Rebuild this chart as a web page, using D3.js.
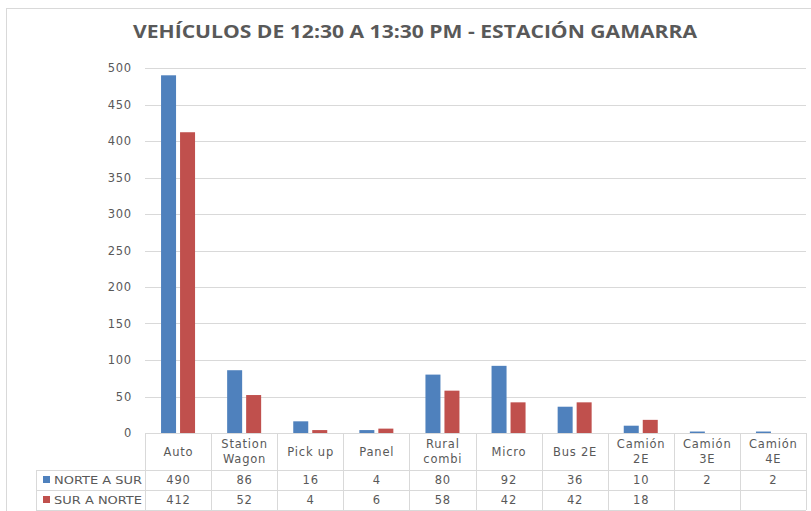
<!DOCTYPE html>
<html>
<head>
<meta charset="utf-8">
<script src="https://cdn.jsdelivr.net/npm/d3@7"></script>
<style>
  html, body { margin: 0; padding: 0; background: #fff; }
  svg { display: block; }
  text { font-family: "DejaVu Sans", "Open Sans", sans-serif; fill: #595959; }
  .title { font-family: "Open Sans", "DejaVu Sans", sans-serif; }
  .lbl { letter-spacing: 0.8px; }
</style>
</head>
<body>
<svg id="chart" width="811" height="511"></svg>
<script>
// Vehicle counts by type, 12:30–13:30, Gamarra station
const categories = ["Auto", "Station\nWagon", "Pick up", "Panel", "Rural\ncombi", "Micro", "Bus 2E", "Camión\n2E", "Camión\n3E", "Camión\n4E"];
const seriesNames = ["NORTE A SUR", "SUR A NORTE"];
const norteASur = [490, 86, 16, 4, 80, 92, 36, 10, 2, 2];
const surANorte = [412, 52, 4, 6, 58, 42, 42, 18, null, null];
const yTicks = [0, 50, 100, 150, 200, 250, 300, 350, 400, 450, 500];
const colors = ["#4F81BD", "#C0504D"];
const title = "VEHÍCULOS DE 12:30 A 13:30 PM - ESTACIÓN GAMARRA";

const series = [norteASur, surANorte];
const svg = d3.select("#chart");

// chart frame
svg.append("rect").attr("x", 6.5).attr("y", 8.5).attr("width", 820).attr("height", 520)
  .attr("fill", "#fff").attr("stroke", "#d9d9d9");

svg.append("text").attr("class", "title").attr("x", 415).attr("y", 38).attr("text-anchor", "middle")
  .attr("font-size", 17).attr("font-weight", "bold")
  .attr("textLength", 564).attr("lengthAdjust", "spacingAndGlyphs")
  .text(title);

const plot = { left: 145, right: 806, top: 68, bottom: 433 };

const x = d3.scaleBand().domain(d3.range(categories.length))
  .range([plot.left, plot.right]).paddingInner(0).paddingOuter(0);
const y = d3.scaleLinear().domain([0, 500]).range([plot.bottom, plot.top]);

// gridlines
svg.append("g").selectAll("line").data(yTicks.filter(t => t > 0)).join("line")
  .attr("x1", plot.left).attr("x2", plot.right)
  .attr("y1", d => Math.round(y(d)) + 0.5).attr("y2", d => Math.round(y(d)) + 0.5)
  .attr("stroke", "#d9d9d9").attr("stroke-width", 1);

// y axis labels
const yAxis = d3.axisLeft(y).tickValues(yTicks).tickSize(0).tickPadding(0);
const gy = svg.append("g").attr("transform", `translate(${plot.left - 13},0)`).call(yAxis);
gy.select(".domain").remove();
gy.selectAll("text").attr("class", "lbl").attr("font-size", 11.5).attr("fill", "#595959")
  .style("font-family", "'DejaVu Sans', 'Open Sans', sans-serif");

// bars
const barW = 15, gap = 4;
const groupW = barW * 2 + gap;
series.forEach((vals, si) => {
  svg.append("g").selectAll("rect")
    .data(vals.map((v, i) => ({ v, i })).filter(d => d.v != null)).join("rect")
    .attr("x", d => x(d.i) + (x.bandwidth() - groupW) / 2 + si * (barW + gap))
    .attr("y", d => y(d.v))
    .attr("width", barW)
    .attr("height", d => y(0) - y(d.v))
    .attr("fill", colors[si]);
});

// data table
const tableLeft = 36;
const rowHead = [433, 470];
const rows = [[470, 490], [490, 510]];
const gridColor = "#d9d9d9";
const tg = svg.append("g");

// vertical cell borders
d3.range(categories.length + 1).forEach(i => {
  const xx = Math.round(i < categories.length ? x(i) : plot.right) + 0.5;
  tg.append("line").attr("x1", xx).attr("x2", xx).attr("y1", rowHead[0]).attr("y2", rows[1][1])
    .attr("stroke", gridColor);
});
tg.append("line").attr("x1", tableLeft + 0.5).attr("x2", tableLeft + 0.5)
  .attr("y1", rows[0][0]).attr("y2", rows[1][1]).attr("stroke", gridColor);
// horizontal borders
tg.append("line").attr("x1", plot.left).attr("x2", plot.right).attr("y1", rowHead[0] + 0.5).attr("y2", rowHead[0] + 0.5).attr("stroke", gridColor);
[rows[0][0], rows[1][0], rows[1][1]].forEach(yy => {
  tg.append("line").attr("x1", tableLeft).attr("x2", plot.right).attr("y1", yy + 0.5).attr("y2", yy + 0.5).attr("stroke", gridColor);
});

// category header labels
categories.forEach((c, i) => {
  const lines = c.split("\n");
  const cx = x(i) + x.bandwidth() / 2;
  const mid = (rowHead[0] + rowHead[1]) / 2;
  const lh = 15;
  const t = tg.append("text").attr("class", "lbl").attr("text-anchor", "middle").attr("font-size", 11.5);
  lines.forEach((ln, k) => {
    t.append("tspan").attr("x", cx + 0.4)
      .attr("y", mid + (k - (lines.length - 1) / 2) * lh + 4)
      .text(ln);
  });
});

// series rows
series.forEach((vals, si) => {
  const r = rows[si];
  const cy = (r[0] + r[1]) / 2 + 4;
  tg.append("rect").attr("x", 43).attr("y", cy - 8).attr("width", 7).attr("height", 7).attr("fill", colors[si]);
  tg.append("text").attr("x", 54).attr("y", cy).attr("font-size", 11)
    .attr("textLength", 88).attr("lengthAdjust", "spacingAndGlyphs")
    .text(seriesNames[si]);
  vals.forEach((v, i) => {
    if (v == null) return;
    tg.append("text").attr("class", "lbl").attr("x", x(i) + x.bandwidth() / 2 + 0.4).attr("y", cy)
      .attr("text-anchor", "middle").attr("font-size", 11.5).text(v);
  });
});
</script>
</body>
</html>
